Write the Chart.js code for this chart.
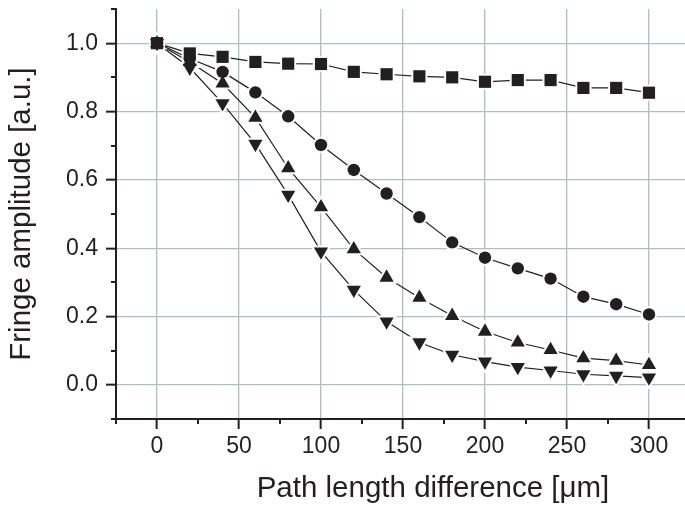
<!DOCTYPE html>
<html>
<head>
<meta charset="utf-8">
<script src="https://cdn.jsdelivr.net/npm/chart.js@4"></script>
<style>
  html, body { margin: 0; padding: 0; background: #ffffff; overflow: hidden; }
  #wrap { width: 750px; height: 509px; }
</style>
</head>
<body>
<div id="wrap"><canvas id="chart" width="750" height="509"></canvas></div>
<script>
// path length difference in um
const xValues = [0, 20, 40, 60, 80, 100, 120, 140, 160, 180, 200, 220, 240, 260, 280, 300];

// fringe amplitude for each series
const squareData = [1.0, 0.970, 0.960, 0.945, 0.940, 0.939, 0.916, 0.909, 0.903, 0.900, 0.887, 0.892, 0.892, 0.869, 0.869, 0.855];
const circleData = [1.0, 0.955, 0.916, 0.856, 0.786, 0.702, 0.629, 0.560, 0.491, 0.417, 0.372, 0.341, 0.311, 0.258, 0.236, 0.206];
const upTriData = [1.0, 0.945, 0.882, 0.782, 0.634, 0.520, 0.397, 0.314, 0.255, 0.202, 0.156, 0.124, 0.102, 0.078, 0.071, 0.058];
const downTriData = [1.0, 0.928, 0.824, 0.705, 0.556, 0.390, 0.278, 0.185, 0.124, 0.088, 0.068, 0.052, 0.042, 0.031, 0.026, 0.021];

// tick positions
const xTicks = [0, 50, 100, 150, 200, 250, 300];
const xMinorTicks = [-25, 25, 75, 125, 175, 225, 275, 325];
const yTicks = [0.0, 0.2, 0.4, 0.6, 0.8, 1.0];
const yMinorTicks = [-0.1, 0.1, 0.3, 0.5, 0.7, 0.9, 1.1];

const ink = "#231f20";
const gridColor = "#aabfbf";
const fontFamily = "'Liberation Sans', Arial, sans-serif";

function toPoints(values) {
  return xValues.map((x, i) => ({ x: x, y: values[i] }));
}

// connecting line, with a white halo round each point so the line stops short of the marker
function lineLayer(values, style, radius, rotation) {
  return {
    data: toPoints(values),
    order: 1,
    borderColor: ink,
    borderWidth: 1.2,
    pointStyle: style,
    pointRadius: radius,
    pointRotation: rotation,
    pointBackgroundColor: "#ffffff",
    pointBorderColor: "#ffffff",
    pointBorderWidth: 4,
  };
}

// solid markers drawn on top of every line (lower order = drawn later)
function markerLayer(values, style, radius, rotation, order) {
  return {
    data: toPoints(values),
    order: order,
    showLine: false,
    pointStyle: style,
    pointRadius: radius,
    pointRotation: rotation,
    pointBackgroundColor: ink,
    pointBorderColor: ink,
    pointBorderWidth: 0,
  };
}

// little outward ticks between the labelled ones
const minorTicks = {
  id: "minorTicks",
  afterDraw(chart) {
    const { ctx, scales: { x, y } } = chart;
    ctx.save();
    ctx.strokeStyle = ink;
    ctx.lineWidth = 2;
    xMinorTicks.forEach((v) => {
      const px = Math.round(x.getPixelForValue(v));
      ctx.beginPath();
      ctx.moveTo(px, x.top);
      ctx.lineTo(px, x.top + 5);
      ctx.stroke();
    });
    yMinorTicks.forEach((v) => {
      const py = Math.round(y.getPixelForValue(v));
      ctx.beginPath();
      ctx.moveTo(y.right, py);
      ctx.lineTo(y.right - 5, py);
      ctx.stroke();
    });
    ctx.restore();
  },
};

new Chart(document.getElementById("chart"), {
  type: "line",
  data: {
    datasets: [
      lineLayer(squareData, "rect", 8.6, 0),
      lineLayer(circleData, "circle", 6.2, 0),
      lineLayer(upTriData, "triangle", 8.2, 0),
      lineLayer(downTriData, "triangle", 8.2, 180),
      markerLayer(squareData, "rect", 8.6, 0, 0),
      markerLayer(circleData, "circle", 6.2, 0, 0),
      markerLayer(upTriData, "triangle", 8.2, 0, 0),
      markerLayer(downTriData, "triangle", 8.2, 180, 0),
    ],
  },
  plugins: [minorTicks],
  options: {
    responsive: false,
    animation: false,
    devicePixelRatio: 1,
    layout: { autoPadding: false, padding: { top: 9, left: 0, right: 0, bottom: 0 } },
    plugins: {
      legend: { display: false },
      tooltip: { enabled: false },
    },
    scales: {
      x: {
        type: "linear",
        min: -25,
        max: 361.6,
        afterBuildTicks: (axis) => { axis.ticks = xTicks.map((v) => ({ value: v })); },
        afterFit: (axis) => {
          axis.height = 90;
          axis.paddingLeft = 0;
          axis.paddingRight = 0;
        },
        grid: { color: gridColor, lineWidth: 1.3, tickColor: ink, tickWidth: 2, tickLength: 10 },
        border: { color: ink, width: 2 },
        ticks: {
          color: ink,
          padding: 4,
          maxRotation: 0,
          font: { family: fontFamily, size: 23 },
          callback: (v) => String(v),
        },
        title: {
          display: true,
          text: "Path length difference [μm]",
          color: ink,
          font: { family: fontFamily, size: 29.5 },
          padding: { top: 0, bottom: 2 },
        },
      },
      y: {
        min: -0.1,
        max: 1.1,
        afterBuildTicks: (axis) => { axis.ticks = yTicks.map((v) => ({ value: v })); },
        afterFit: (axis) => {
          axis.width = 116;
          axis.paddingTop = 0;
          axis.paddingBottom = 0;
        },
        grid: { color: gridColor, lineWidth: 1.3, tickColor: ink, tickWidth: 2, tickLength: 10 },
        border: { color: ink, width: 2 },
        ticks: {
          color: ink,
          padding: 8,
          font: { family: fontFamily, size: 23 },
          callback: (v) => Number(v).toFixed(1),
        },
        title: {
          display: true,
          text: "Fringe amplitude [a.u.]",
          color: ink,
          font: { family: fontFamily, size: 29.5 },
          padding: { top: 4, bottom: 0 },
        },
      },
    },
  },
});
</script>
</body>
</html>
